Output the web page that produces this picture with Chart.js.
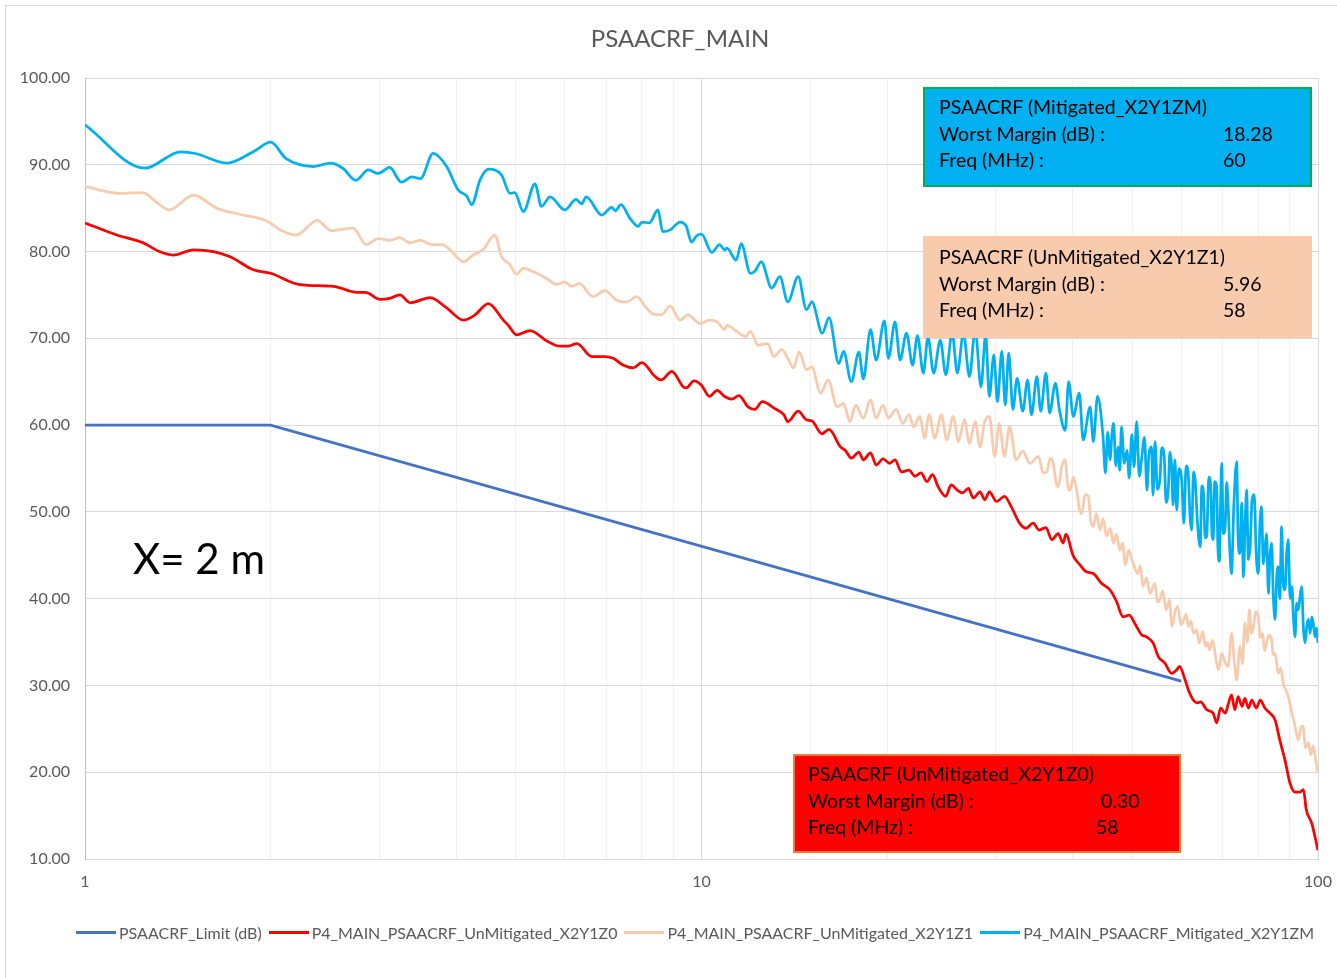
<!DOCTYPE html>
<html>
<head>
<meta charset="utf-8">
<title>PSAACRF_MAIN</title>
<script src="https://cdn.jsdelivr.net/npm/chart.js@4.4.1/dist/chart.umd.min.js"></script>
<style>
    html, body { margin: 0; padding: 0; background: #fff; }
    #wrap { position: relative; width: 1337px; height: 978px; overflow: hidden; font-family: Lato, "Open Sans", sans-serif; }
    #frame { position: absolute; left: 5px; top: 5px; width: 1400px; height: 1000px; border: 1px solid #d9d9d9; pointer-events: none; }
    #title { position: absolute; left: 480px; width: 400px; top: 23px; text-align: center; font-size: 24px; line-height: 30px; color: #595959; }
    #legend { position: absolute; left: 76px; top: 921px; height: 22px; display: flex; align-items: center; font-size: 16px; color: #595959; white-space: nowrap; }
    #legend .swatch { display: inline-block; width: 40px; height: 3px; margin-right: 3px; }
    #legend .item { display: flex; align-items: center; margin-right: 7px; }
    .note { position: absolute; box-sizing: border-box; color: #000; font-size: 19.5px; border: 2px solid transparent; }
    .note .row { position: relative; height: 26.5px; line-height: 26.5px; white-space: nowrap; }
    .note .val { position: absolute; top: 0; }
    #xlabel { position: absolute; left: 133px; top: 530px; font-size: 42px; line-height: 56px; color: #000; }
</style>
</head>
<body>
<div id="wrap">
    <canvas id="chartPsaacrf" width="1337" height="978"></canvas>
    <div id="frame"></div>
    <div id="title">PSAACRF_MAIN</div>
    <div id="legend"></div>

    <div class="note" style="left:923px; top:87px; width:389px; height:100px; background:#00b0f0; border-color:#00b050; padding:5px 0 0 14px;">
        <div class="row">PSAACRF (Mitigated_X2Y1ZM)</div>
        <div class="row">Worst Margin (dB) :<span class="val" style="left:284px">18.28</span></div>
        <div class="row">Freq (MHz) :<span class="val" style="left:284px">60</span></div>
    </div>

    <div class="note" style="left:923px; top:236px; width:389px; height:102px; background:#f8cbad; border-color:#f8cbad; padding:6px 0 0 14px;">
        <div class="row">PSAACRF (UnMitigated_X2Y1Z1)</div>
        <div class="row">Worst Margin (dB) :<span class="val" style="left:284px">5.96</span></div>
        <div class="row">Freq (MHz) :<span class="val" style="left:284px">58</span></div>
    </div>

    <div class="note" style="left:793px; top:754px; width:388px; height:99px; background:#ff0000; border-color:#ed7d31; padding:5px 0 0 13px;">
        <div class="row">PSAACRF (UnMitigated_X2Y1Z0)</div>
        <div class="row">Worst Margin (dB) :<span class="val" style="left:293px">0.30</span></div>
        <div class="row">Freq (MHz) :<span class="val" style="left:288px">58</span></div>
    </div>

    <div id="xlabel">X= 2 m</div>
</div>

<script>
// ---------------------------------------------------------------- chart data
// every series is a list of [frequency (MHz), level (dB)]
var seriesNames = [
    "PSAACRF_Limit (dB)",
    "P4_MAIN_PSAACRF_UnMitigated_X2Y1Z0",
    "P4_MAIN_PSAACRF_UnMitigated_X2Y1Z1",
    "P4_MAIN_PSAACRF_Mitigated_X2Y1ZM"
];
var seriesColors = ["#4472c4", "#ff0000", "#f8cbad", "#00b0f0"];

var xTickLabels = [1, 10, 100];
var yMin = 10;
var yMax = 100;
var yStep = 10;

var limitData = [[1, 60], [2, 60], [60, 30.5]];

var z0Data = [
    [1.00, 83.3], [1.126, 81.9], [1.243, 81.0], [1.32, 80.0], [1.39, 79.6], [1.50, 80.2],
    [1.615, 80.0], [1.72, 79.4], [1.875, 77.9], [2.00, 77.5], [2.23, 76.2], [2.53, 76.0],
    [2.76, 75.3], [2.85, 75.3], [3.01, 74.5], [3.12, 74.6], [3.24, 75.0], [3.37, 74.1],
    [3.63, 74.7], [3.86, 73.5], [4.11, 72.1], [4.29, 72.7], [4.51, 74.0], [4.77, 72.1],
    [4.86, 71.5], [5.01, 70.4], [5.27, 70.9], [5.61, 69.7], [5.89, 69.1], [6.08, 69.1],
    [6.28, 69.4], [6.64, 67.9], [6.97, 67.9], [7.19, 67.7], [7.47, 66.9], [7.75, 66.6],
    [8.00, 67.2], [8.41, 65.6], [8.60, 65.2], [8.95, 66.2], [9.34, 64.4], [9.45, 64.3],
    [9.72, 65.1], [10.0, 64.6], [10.3, 63.3], [10.6, 64.0], [10.9, 63.3], [11.2, 63.0],
    [11.5, 63.4], [11.9, 62.1], [12.2, 61.8], [12.55, 62.7], [13.15, 61.9], [13.6, 61.2],
    [13.8, 60.4], [14.35, 61.6], [14.8, 60.6], [15.1, 60.5], [15.67, 59.0], [16.1, 59.5],
    [16.8, 57.5], [17.1, 57.1], [17.5, 56.2], [18.0, 56.9], [18.3, 56.0], [18.8, 56.8],
    [19.2, 55.4], [19.7, 56.1], [20.2, 55.6], [20.6, 56.0], [21.1, 54.6], [21.7, 54.8],
    [22.2, 54.1], [22.7, 54.5], [23.2, 53.5], [23.7, 54.3], [24.2, 52.9], [24.9, 51.8],
    [25.4, 53.1], [26.0, 52.5], [26.5, 52.2], [27.1, 52.7], [27.6, 51.6], [28.3, 52.3],
    [28.8, 51.4], [29.3, 52.3], [30.1, 51.2], [31.0, 51.8], [31.8, 50.6], [32.8, 48.7],
    [33.6, 48.1], [34.5, 48.7], [35.3, 47.9], [36.2, 48.2], [37.0, 46.8], [37.9, 47.5],
    [38.6, 46.4], [39.0, 47.4], [40.1, 44.9], [41.1, 43.9], [42.1, 43.1], [43.2, 42.9],
    [44.5, 41.8], [46.0, 41.0], [47.1, 39.7], [48.3, 37.9], [49.4, 38.1], [50.4, 37.2],
    [51.8, 35.8], [52.7, 35.6], [54.0, 34.9], [55.1, 33.3], [56.4, 32.6], [57.9, 31.4],
    [59.0, 31.8], [59.6, 32.2], [60.9, 30.6], [61.6, 29.5], [62.8, 28.3], [63.6, 28.0],
    [64.5, 28.1], [66.0, 27.2], [67.6, 26.8], [68.5, 25.7], [69.5, 27.4], [70.7, 26.8],
    [71.5, 27.8], [72.4, 28.9], [73.3, 27.2], [74.2, 28.7], [75.3, 27.6], [76.1, 28.5],
    [77.1, 27.4], [78.1, 28.3], [79.4, 27.4], [80.6, 28.3], [82.0, 27.4], [83.6, 26.8],
    [85.2, 26.0], [86.7, 23.7], [88.4, 21.4], [90.1, 18.7], [91.8, 17.7], [93.5, 17.7],
    [94.7, 18.0], [95.7, 15.7], [97.7, 14.1], [100, 11.0]
];

var z1Data = [
    [1.00, 87.5], [1.14, 86.7], [1.24, 86.8], [1.31, 85.6], [1.37, 84.8], [1.50, 86.5],
    [1.635, 85.0], [1.78, 84.3], [1.96, 83.6], [2.10, 82.3], [2.20, 81.9], [2.38, 83.6],
    [2.51, 82.4], [2.72, 82.7], [2.86, 80.8], [2.99, 81.5], [3.12, 81.3], [3.24, 81.6],
    [3.37, 81.0], [3.50, 81.3], [3.65, 80.8], [3.79, 80.8], [3.91, 80.2], [4.11, 78.8],
    [4.26, 79.6], [4.42, 80.2], [4.62, 81.9], [4.74, 79.4], [4.89, 78.5], [5.01, 77.4],
    [5.14, 78.1], [5.33, 77.7], [5.61, 76.9], [5.82, 76.2], [6.00, 76.5], [6.15, 76.0],
    [6.34, 76.3], [6.67, 74.8], [6.97, 75.5], [7.28, 74.4], [7.56, 74.2], [7.85, 74.8],
    [8.14, 73.5], [8.35, 72.8], [8.60, 72.7], [8.90, 73.7], [9.23, 72.1], [9.50, 72.7],
    [9.95, 71.7], [10.3, 72.1], [10.6, 71.9], [10.9, 71.0], [11.0, 71.5], [11.4, 70.8],
    [11.8, 70.2], [12.0, 70.8], [12.35, 69.2], [12.8, 69.4], [13.1, 67.9], [13.5, 68.7],
    [13.8, 67.7], [14.1, 66.6], [14.4, 68.4], [14.8, 66.4], [15.1, 66.7], [15.6, 63.7],
    [16.05, 65.2], [16.6, 62.1], [17.0, 62.5], [17.4, 60.4], [17.8, 62.3], [18.3, 60.8],
    [18.8, 62.9], [19.2, 60.8], [19.7, 62.3], [20.1, 60.8], [20.7, 61.8], [21.2, 60.2],
    [21.7, 61.2], [22.1, 59.8], [22.6, 61.0], [23.0, 58.5], [23.4, 61.2], [23.9, 58.5],
    [24.5, 61.2], [25.0, 58.3], [25.6, 61.0], [26.1, 58.1], [26.7, 60.6], [27.2, 57.9],
    [27.8, 60.4], [28.3, 57.5], [28.8, 60.4], [29.3, 61.0], [29.9, 56.4], [30.4, 60.2],
    [31.0, 56.4], [31.6, 59.8], [32.4, 56.0], [33.2, 57.0], [34.1, 55.6], [35.2, 56.4],
    [35.8, 54.5], [36.3, 54.6], [36.8, 56.2], [37.2, 55.6], [37.6, 53.4], [37.9, 52.9],
    [38.4, 55.2], [38.9, 56.0], [39.3, 52.8], [39.6, 52.5], [40.1, 54.0], [40.6, 52.5],
    [41.0, 50.4], [41.4, 49.8], [41.9, 52.0], [42.4, 51.8], [42.8, 49.0], [43.2, 48.3],
    [43.7, 49.8], [44.3, 47.9], [44.8, 49.2], [45.4, 47.2], [46.0, 48.1], [46.6, 46.4],
    [47.1, 47.4], [47.7, 45.6], [48.2, 46.4], [48.7, 43.9], [49.3, 45.6], [49.9, 44.5],
    [50.4, 43.6], [51.0, 42.9], [51.5, 43.8], [52.0, 41.4], [52.7, 42.4], [53.4, 40.6],
    [54.4, 41.8], [54.9, 39.6], [55.4, 39.9], [56.0, 40.9], [56.7, 38.7], [57.4, 39.8],
    [58.0, 36.8], [58.6, 38.4], [59.2, 39.1], [59.9, 37.0], [60.6, 37.6], [61.1, 38.2],
    [61.6, 36.8], [62.2, 37.4], [62.8, 36.0], [63.5, 36.4], [64.2, 34.9], [65.0, 36.2],
    [65.7, 34.5], [66.2, 35.0], [66.7, 34.1], [67.5, 35.2], [68.2, 33.3], [69.0, 31.8],
    [69.8, 33.7], [70.7, 32.6], [71.5, 32.2], [72.4, 36.0], [73.1, 33.0], [73.8, 30.6],
    [74.7, 34.5], [75.4, 32.5], [76.1, 37.2], [76.8, 35.0], [77.4, 38.7], [78.0, 36.0],
    [78.6, 36.8], [79.3, 38.5], [80.0, 37.9], [80.6, 35.5], [81.3, 36.0], [81.9, 34.0],
    [82.5, 34.9], [83.3, 35.8], [84.1, 35.3], [84.6, 33.5], [85.2, 33.7], [86.2, 31.4],
    [87.0, 32.0], [87.8, 30.3], [88.6, 29.5], [89.5, 28.7], [90.7, 26.8], [91.8, 25.3],
    [92.9, 23.7], [93.7, 25.0], [94.5, 25.3], [95.5, 22.8], [96.5, 23.4], [97.3, 22.0],
    [98.2, 23.0], [99.1, 21.5], [100, 19.9]
];

var zmData = [
    [1.00, 94.6], [1.25, 89.6], [1.43, 91.5], [1.51, 91.3], [1.70, 90.2], [1.875, 91.5],
    [2.00, 92.6], [2.12, 90.7], [2.35, 89.8], [2.50, 90.2], [2.62, 89.6], [2.75, 88.2],
    [2.88, 89.4], [2.99, 89.0], [3.12, 89.7], [3.26, 88.0], [3.39, 88.6], [3.50, 88.4],
    [3.67, 91.3], [3.86, 89.8], [4.03, 87.1], [4.16, 86.4], [4.24, 85.4], [4.37, 88.2],
    [4.51, 89.5], [4.74, 88.8], [4.89, 86.7], [4.98, 86.8], [5.14, 84.6], [5.37, 87.8],
    [5.50, 85.2], [5.68, 86.3], [6.00, 84.8], [6.26, 86.0], [6.39, 85.5], [6.50, 86.3],
    [6.89, 84.2], [7.15, 85.1], [7.25, 84.7], [7.40, 85.4], [7.66, 83.8], [7.90, 82.9],
    [8.00, 83.4], [8.23, 83.3], [8.50, 84.8], [8.65, 82.3], [8.90, 82.5], [9.23, 83.4],
    [9.45, 82.9], [9.63, 81.1], [9.82, 81.8], [10.0, 82.0], [10.39, 79.9], [10.7, 80.8],
    [10.9, 80.2], [11.0, 80.4], [11.38, 79.0], [11.6, 80.9], [12.0, 77.5], [12.2, 77.7],
    [12.5, 78.8], [13.0, 75.8], [13.4, 77.1], [13.8, 74.2], [14.35, 77.1], [14.8, 73.3],
    [15.1, 74.2], [15.7, 70.6], [16.1, 72.4], [16.7, 67.1], [17.0, 68.5], [17.5, 65.0],
    [18.0, 68.4], [18.3, 65.3], [18.8, 71.0], [19.2, 67.5], [19.8, 72.0], [20.1, 67.7],
    [20.6, 71.9], [21.0, 67.5], [21.5, 70.6], [22.0, 66.9], [22.4, 70.3], [22.9, 66.0],
    [23.3, 70.1], [23.8, 66.0], [24.4, 69.8], [24.9, 65.8], [25.5, 70.6], [26.0, 66.0],
    [26.6, 70.6], [27.2, 65.6], [27.8, 71.0], [28.4, 64.4], [28.9, 70.4], [29.3, 63.3],
    [29.8, 68.1], [30.2, 62.7], [30.7, 68.5], [31.1, 62.3], [31.5, 68.3], [32.0, 61.8],
    [32.5, 65.4], [33.2, 61.6], [33.8, 65.2], [34.3, 61.2], [35.0, 65.6], [35.5, 61.6],
    [36.2, 66.0], [36.7, 61.4], [37.5, 64.8], [38.1, 61.6], [38.9, 59.4], [39.4, 65.0],
    [40.1, 61.0], [41.0, 63.7], [41.6, 58.3], [42.7, 62.1], [43.2, 58.1], [43.9, 63.3],
    [44.8, 58.7], [45.2, 54.5], [45.6, 59.2], [46.0, 56.0], [46.3, 58.8], [46.6, 60.2],
    [47.0, 55.3], [47.4, 57.5], [47.7, 54.8], [48.0, 59.8], [48.5, 55.6], [49.0, 57.1],
    [49.4, 53.9], [49.9, 58.9], [50.3, 55.2], [50.8, 60.4], [51.3, 54.1], [51.8, 56.4],
    [52.3, 58.6], [52.8, 52.5], [53.2, 56.8], [53.7, 57.5], [54.0, 51.9], [54.4, 58.1],
    [54.9, 52.6], [55.4, 53.7], [55.8, 57.4], [56.3, 56.4], [56.7, 51.1], [57.2, 52.9],
    [57.5, 56.9], [57.9, 55.2], [58.2, 50.8], [58.6, 56.0], [59.0, 50.2], [59.5, 55.0],
    [60.1, 53.7], [60.6, 48.7], [61.1, 55.3], [61.6, 54.3], [62.0, 49.5], [62.4, 47.9],
    [62.8, 54.6], [63.2, 53.7], [63.8, 48.4], [64.4, 46.0], [64.8, 53.0], [65.2, 52.2],
    [65.6, 47.0], [66.0, 47.2], [66.5, 54.0], [67.0, 52.9], [67.3, 47.5], [67.6, 46.8],
    [68.0, 53.5], [68.5, 52.9], [68.8, 46.0], [69.2, 44.3], [69.5, 51.0], [69.8, 55.6],
    [70.2, 47.5], [70.7, 48.3], [71.1, 53.4], [71.5, 50.6], [72.0, 45.0], [72.4, 42.9],
    [73.0, 50.5], [73.8, 55.8], [74.2, 47.0], [74.7, 45.2], [75.2, 51.0], [75.7, 42.5],
    [76.2, 49.0], [76.6, 52.5], [77.1, 44.5], [77.6, 46.0], [78.2, 51.5], [78.8, 52.0],
    [79.4, 45.0], [80.0, 42.9], [80.5, 48.5], [81.0, 50.6], [81.5, 44.0], [82.0, 45.6],
    [82.5, 47.5], [83.1, 40.6], [83.6, 45.0], [84.1, 46.4], [84.6, 40.5], [85.2, 37.6],
    [85.7, 42.5], [86.2, 43.7], [86.7, 40.0], [87.3, 48.3], [87.8, 42.0], [88.4, 41.0],
    [89.0, 45.5], [89.5, 46.8], [90.1, 40.0], [90.7, 41.4], [91.2, 38.0], [91.8, 35.6],
    [92.3, 39.5], [92.9, 38.7], [93.5, 40.2], [94.1, 41.4], [94.7, 36.5], [95.3, 34.9],
    [95.9, 36.9], [96.5, 37.6], [97.1, 36.0], [97.7, 37.9], [98.3, 37.0], [98.9, 35.6],
    [99.5, 36.6], [100, 34.9]
];

// ---------------------------------------------------------------- helpers
// turn [f, dB] pairs into the {x, y} points Chart.js wants
function toPoints(pairs)
{
    return pairs.map(function (p) { return { x: p[0], y: p[1] }; });
}

// decade lines a bit darker than the 2..9 lines, like the Excel sheet
function xGridColor(c)
{
    if (c.tick && xTickLabels.indexOf(c.tick.value) >= 0)
        return "#d9d9d9";
    return "#f0f0f0";
}

function makeDataset(i, pairs, order, smooth)
{
    return {
        label: seriesNames[i],
        data: toPoints(pairs),
        borderColor: seriesColors[i],
        backgroundColor: seriesColors[i],
        borderWidth: 2.75,
        pointRadius: 0,
        pointHoverRadius: 0,
        fill: false,
        order: order,
        tension: smooth ? 0.4 : 0,
        cubicInterpolationMode: smooth ? "monotone" : "default"
    };
}

// legend row under the plot, same look as the Excel one
function buildLegend()
{
    var box = document.getElementById("legend");
    for (var i = 0; i < seriesNames.length; ++ i)
    {
        var item = document.createElement("span");
        item.className = "item";
        var swatch = document.createElement("span");
        swatch.className = "swatch";
        swatch.style.background = seriesColors[i];
        item.appendChild(swatch);
        item.appendChild(document.createTextNode(seriesNames[i]));
        box.appendChild(item);
    }
}

// ---------------------------------------------------------------- main
Chart.defaults.font.family = "Lato, 'Open Sans', sans-serif";
Chart.defaults.color = "#595959";

var go = {};
buildLegend();
go.canvas = document.getElementById("chartPsaacrf");

go.chart = new Chart(go.canvas.getContext("2d"), {
    type: "line",
    data: {
        datasets: [
            makeDataset(0, limitData, 4, false),
            makeDataset(1, z0Data, 3, true),
            makeDataset(2, z1Data, 2, true),
            makeDataset(3, zmData, 1, true)
        ]
    },
    options: {
        responsive: false,
        animation: false,
        events: [],
        layout: { padding: { left: 0, right: 19, top: 78, bottom: 79 } },
        plugins: {
            title: { display: false },
            legend: { display: false },
            tooltip: { enabled: false }
        },
        scales: {
            x: {
                type: "logarithmic",
                min: 1,
                max: 100,
                border: { color: "#d9d9d9" },
                grid: { color: xGridColor, drawTicks: false },
                ticks: {
                    autoSkip: false,
                    maxRotation: 0,
                    padding: 13,
                    font: { size: 16 },
                    callback: function (v)
                    {
                        return xTickLabels.indexOf(v) >= 0 ? String(v) : "";
                    }
                },
                afterFit: function (s)
                {
                    s.height = 40;
                    s.paddingLeft = 0;
                    s.paddingRight = 0;
                }
            },
            y: {
                min: yMin,
                max: yMax,
                border: { color: "#bfbfbf" },
                grid: { color: "#d9d9d9", drawTicks: false },
                ticks: {
                    stepSize: yStep,
                    padding: 15,
                    font: { size: 16 },
                    callback: function (v) { return v.toFixed(2); }
                },
                afterFit: function (s)
                {
                    s.width = 85;
                    s.paddingTop = 0;
                    s.paddingBottom = 0;
                }
            }
        }
    }
});
</script>
</body>
</html>
